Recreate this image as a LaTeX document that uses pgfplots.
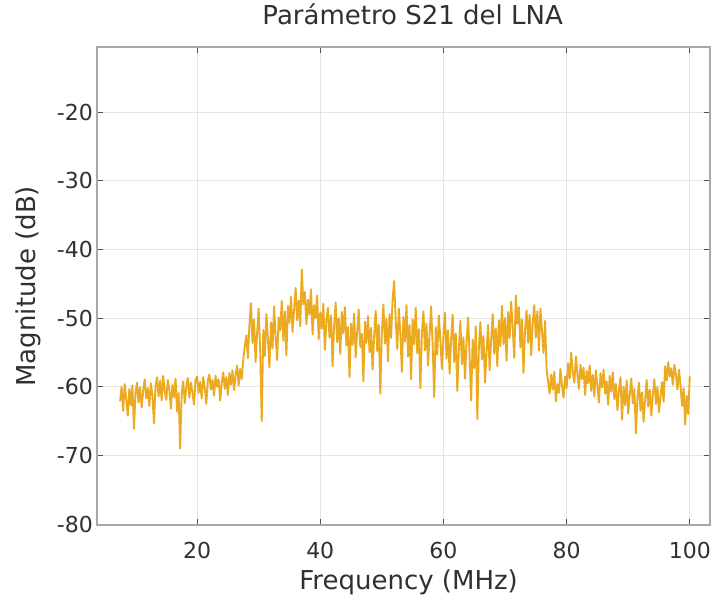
\documentclass[border=0pt]{standalone}
\usepackage{fontspec}
\setmainfont{DejaVu Sans}
\usepackage{pgfplots}
\pgfplotsset{compat=1.18}
\usepackage{pgfplotstable}
\definecolor{lineor}{HTML}{EBAA22}
\definecolor{txt}{HTML}{303030}
\definecolor{frame}{HTML}{A8A8A8}
\definecolor{gridc}{HTML}{E3E3E3}
\definecolor{tickc}{HTML}{505050}
\pgfplotstableread{
f y
7.50 -62.1
7.75 -60.0
8.00 -63.5
8.25 -59.6
8.50 -61.8
8.75 -64.2
9.00 -60.3
9.25 -62.7
9.50 -59.8
9.75 -66.1
10.00 -61.0
10.25 -59.4
10.50 -62.3
10.75 -60.1
11.00 -63.0
11.25 -60.6
11.50 -58.9
11.75 -61.7
12.00 -60.2
12.25 -62.8
12.50 -59.5
12.75 -61.2
13.00 -65.3
13.25 -60.0
13.50 -58.6
13.75 -61.4
14.00 -59.1
14.25 -62.0
14.50 -58.4
14.75 -60.7
15.00 -61.9
15.25 -59.0
15.50 -60.4
15.75 -63.2
16.00 -59.7
16.25 -61.5
16.50 -58.8
16.75 -63.6
17.00 -60.9
17.25 -69.0
17.50 -61.1
17.75 -59.2
18.00 -62.4
18.25 -60.0
18.50 -58.7
18.75 -61.6
19.00 -59.4
19.25 -60.8
19.50 -62.6
19.75 -59.0
20.00 -58.5
20.25 -60.9
20.50 -59.3
20.75 -61.7
21.00 -58.6
21.25 -60.2
21.50 -62.5
21.75 -59.1
22.00 -58.2
22.25 -60.4
22.50 -59.0
22.75 -61.3
23.00 -58.4
23.25 -60.0
23.50 -58.9
23.75 -62.0
24.00 -59.5
24.25 -57.9
24.50 -60.3
24.75 -58.6
25.00 -61.2
25.25 -58.0
25.50 -59.7
25.75 -57.6
26.00 -60.5
26.25 -58.3
26.50 -56.9
26.75 -59.8
27.00 -57.4
27.25 -58.9
27.50 -56.0
27.75 -54.1
28.00 -52.5
28.25 -55.8
28.50 -51.0
28.75 -47.8
29.00 -53.6
29.25 -50.2
29.50 -56.4
29.75 -52.1
30.00 -48.6
30.25 -54.9
30.50 -65.0
30.75 -51.7
31.00 -55.5
31.25 -49.4
31.50 -53.0
31.75 -57.2
32.00 -50.6
32.25 -54.4
32.50 -48.3
32.75 -52.7
33.00 -56.1
33.25 -49.9
33.50 -51.8
33.75 -47.5
34.00 -53.3
34.25 -49.0
34.50 -55.4
34.75 -48.2
35.00 -50.7
35.25 -46.9
35.50 -52.0
35.75 -48.8
36.00 -45.6
36.25 -50.3
36.50 -47.4
36.75 -51.2
37.00 -42.9
37.25 -48.0
37.50 -46.2
37.75 -50.9
38.00 -47.3
38.25 -49.5
38.50 -45.8
38.75 -52.4
39.00 -48.1
39.25 -50.0
39.50 -46.7
39.75 -53.1
40.00 -49.2
40.25 -51.5
40.50 -47.9
40.75 -54.6
41.00 -50.4
41.25 -48.5
41.50 -52.8
41.75 -49.6
42.00 -57.0
42.25 -51.1
42.50 -47.7
42.75 -53.5
43.00 -50.0
43.25 -55.2
43.50 -49.1
43.75 -52.2
44.00 -48.4
44.25 -54.0
44.50 -51.3
44.75 -58.6
45.00 -50.8
45.25 -53.9
45.50 -49.3
45.75 -55.7
46.00 -51.9
46.25 -48.7
46.50 -54.2
46.75 -52.3
47.00 -59.2
47.25 -50.5
47.50 -53.6
47.75 -49.7
48.00 -55.0
48.25 -51.4
48.50 -57.5
48.75 -52.6
49.00 -48.9
49.25 -54.8
49.50 -50.9
49.75 -61.0
50.00 -52.0
50.25 -48.0
50.50 -53.7
50.75 -50.1
51.00 -56.3
51.25 -49.4
51.50 -52.9
51.75 -47.2
52.00 -44.6
52.25 -50.3
52.50 -54.5
52.75 -48.6
53.00 -52.1
53.25 -57.8
53.50 -49.8
53.75 -53.4
54.00 -48.1
54.25 -55.6
54.50 -51.0
54.75 -58.9
55.00 -50.2
55.25 -53.8
55.50 -48.5
55.75 -55.1
56.00 -51.6
56.25 -60.2
56.50 -52.4
56.75 -49.0
57.00 -54.7
57.25 -50.8
57.50 -56.9
57.75 -52.5
58.00 -48.3
58.25 -54.0
58.50 -61.5
58.75 -51.3
59.00 -55.3
59.25 -49.6
59.50 -53.2
59.75 -57.4
60.00 -52.7
60.25 -49.2
60.50 -55.9
60.75 -51.8
61.00 -58.1
61.25 -53.0
61.50 -49.5
61.75 -56.4
62.00 -52.2
62.25 -60.6
62.50 -54.6
62.75 -50.4
63.00 -56.7
63.25 -52.8
63.50 -58.8
63.75 -53.5
64.00 -49.9
64.25 -55.5
64.50 -62.0
64.75 -53.1
65.00 -57.3
65.25 -51.2
65.50 -64.7
65.75 -54.3
66.00 -50.6
66.25 -56.0
66.50 -52.6
66.75 -59.4
67.00 -54.9
67.25 -51.0
67.50 -57.6
67.75 -53.2
68.00 -49.4
68.25 -55.2
68.50 -51.5
68.75 -57.0
69.00 -50.3
69.25 -54.1
69.50 -48.2
69.75 -53.8
70.00 -50.0
70.25 -56.2
70.50 -49.1
70.75 -52.9
71.00 -47.6
71.25 -51.4
71.50 -55.8
71.75 -46.7
72.00 -50.8
72.25 -48.4
72.50 -54.3
72.75 -50.2
73.00 -58.0
73.25 -51.7
73.50 -48.9
73.75 -53.6
74.00 -49.5
74.25 -55.4
74.50 -50.6
74.75 -48.1
75.00 -52.8
75.25 -49.0
75.50 -54.7
75.75 -48.6
76.00 -51.9
76.25 -55.1
76.50 -50.4
76.75 -57.5
77.00 -59.3
77.25 -61.0
77.50 -58.2
77.75 -60.4
78.00 -57.8
78.25 -62.1
78.50 -59.6
78.75 -60.9
79.00 -57.4
79.25 -59.9
79.50 -61.6
79.75 -58.5
80.00 -60.2
80.25 -56.6
80.50 -58.8
80.75 -55.0
81.00 -57.9
81.25 -59.4
81.50 -55.6
81.75 -58.1
82.00 -60.3
82.25 -56.8
82.50 -58.9
82.75 -57.2
83.00 -61.2
83.25 -57.7
83.50 -59.5
83.75 -56.9
84.00 -60.6
84.25 -58.3
84.50 -61.4
84.75 -57.6
85.00 -59.8
85.25 -62.3
85.50 -58.0
85.75 -60.1
86.00 -57.5
86.25 -61.0
86.50 -59.2
86.75 -62.6
87.00 -58.4
87.25 -60.7
87.50 -57.9
87.75 -61.8
88.00 -59.6
88.25 -63.4
88.50 -60.5
88.75 -58.6
89.00 -64.8
89.25 -60.0
89.50 -62.7
89.75 -59.1
90.00 -63.9
90.25 -61.2
90.50 -58.8
90.75 -62.4
91.00 -60.3
91.25 -66.8
91.50 -61.6
91.75 -59.4
92.00 -63.5
92.25 -60.8
92.50 -65.1
92.75 -61.9
93.00 -59.0
93.25 -62.9
93.50 -60.4
93.75 -64.2
94.00 -61.1
94.25 -58.9
94.50 -62.5
94.75 -60.0
95.00 -63.7
95.25 -61.4
95.50 -59.3
95.75 -62.2
96.00 -57.0
96.25 -59.1
96.50 -56.4
96.75 -58.5
97.00 -57.3
97.25 -59.7
97.50 -56.8
97.75 -58.2
98.00 -60.4
98.25 -57.5
98.50 -59.9
98.75 -62.8
99.00 -60.2
99.25 -65.5
99.50 -61.3
99.75 -64.0
100.00 -58.4
}\datatab
\begin{document}
\begin{tikzpicture}
\begin{axis}[
  scale only axis,
  width=612.8pt, height=478.3pt,
  xmin=3.8, xmax=103.3,
  ymin=-80.2, ymax=-10.5,
  xtick={20,40,60,80,100},
  ytick={-80,-70,-60,-50,-40,-30,-20},
  grid=major,
  major grid style={gridc, line width=0.9pt},
  axis line style={frame, line width=2pt},
  tick style={tickc, line width=1pt},
  major tick length=6pt,
  tick align=inside,
  /pgf/number format/assume math mode=true,
  ticklabel style={font=\fontsize{22}{26}\selectfont, text=txt},
  xticklabel style={anchor=base, yshift=-33pt},
  yticklabel style={anchor=east, xshift=-1pt},
  title={Parámetro S21 del LNA},
  xlabel={Frequency (MHz)},
  ylabel={Magnitude (dB)},
  title style={at={(axis description cs:0.5147,1.0355)}, anchor=base, font=\fontsize{26}{30}\selectfont, text=txt},
  xlabel style={at={(axis description cs:0.508,-0.1338)}, anchor=base, font=\fontsize{26}{30}\selectfont, text=txt},
  ylabel style={at={(axis description cs:-0.101,0.5)}, anchor=base, rotate=0, font=\fontsize{26}{30}\selectfont, text=txt},
]
\addplot[lineor, line width=1.9pt, line join=round] table[x=f, y=y] {\datatab};
\coordinate (SW) at (rel axis cs:0,0);
\end{axis}
\path ([shift={(-97.3pt,-76.7pt)}]SW) rectangle ++(715pt,600pt);
\end{tikzpicture}
\end{document}
